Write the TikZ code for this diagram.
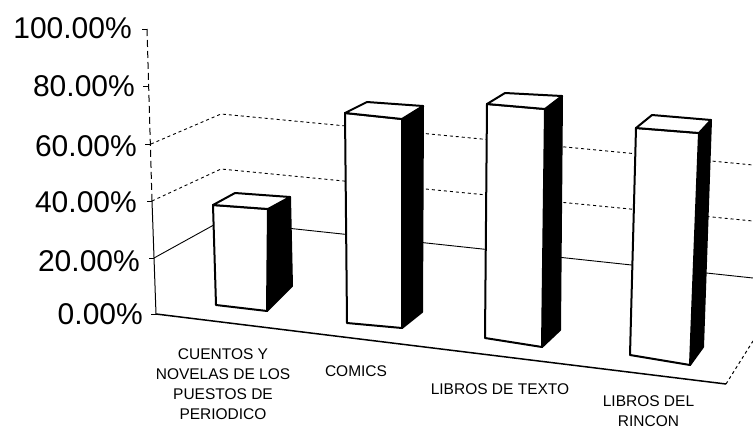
\documentclass[tikz,border=0pt]{standalone}
\usepackage{fontspec}
\setmainfont{Liberation Sans}

\begin{document}
\begin{tikzpicture}[x=1pt, y=-1pt,
    axislabel/.style={anchor=east, inner sep=0pt, font=\fontsize{30}{30}\selectfont},
    catlabel/.style={align=center, inner sep=0pt, font=\fontsize{15.5}{20}\selectfont},
    gridline/.style={line width=0.9pt},
    barface/.style={fill=white, draw=black, line width=2pt, line join=round},
    barside/.style={fill=black, draw=black, line width=2pt, line join=round}]

    \useasboundingbox (0,0) rectangle (753,432);

    % Gridlines
    \draw[gridline] (154,258) -- (221,221) -- (753,278);
    \draw[gridline, dashed] (152,201) -- (221,169) -- (753,221);
    \draw[gridline, dashed] (151,144) -- (221,114) -- (753,165);

    % Axis and ticks
    \draw[line width=1pt, dash pattern=on 7pt off 4pt] (147,29) -- (152,201);
    \draw[line width=1pt] (152,201) -- (156,314);
    \draw[line width=1pt] (142,29) -- (147,29);
    \draw[line width=1pt] (143,86) -- (149,86);
    \draw[line width=1pt] (145,144) -- (151,144);
    \draw[line width=1pt] (147,201) -- (152,201);
    \draw[line width=1pt] (149,258) -- (154,258);
    \draw[line width=1pt] (151,314) -- (156,314);

    % Floor
    \draw[line width=1.5pt] (156,314) -- (726,384);
    \draw[line width=1pt, dashed] (726,384) -- (753,341);

    % Bar: cuentos
    \filldraw[barside] (268,209) -- (290,197) -- (292,286) -- (267,311) -- cycle;
    \filldraw[barface] (213,205) -- (268,209) -- (267,311) -- (216,305) -- cycle;
    \filldraw[barface] (213,205) -- (235,193) -- (290,197) -- (268,209) -- cycle;

    % Bar: comics
    \filldraw[barside] (402,119) -- (423,106) -- (422,312) -- (402,328) -- cycle;
    \filldraw[barface] (345,113) -- (402,119) -- (402,328) -- (347,323) -- cycle;
    \filldraw[barface] (345,113) -- (367,102) -- (423,106) -- (402,119) -- cycle;

    % Bar: libros de texto
    \filldraw[barside] (545,109) -- (562,96) -- (560,330) -- (542,347) -- cycle;
    \filldraw[barface] (487,104) -- (545,109) -- (542,347) -- (485,338) -- cycle;
    \filldraw[barface] (487,104) -- (505,93) -- (562,96) -- (545,109) -- cycle;

    % Bar: libros del rincon
    \filldraw[barside] (699,133) -- (711,120) -- (703,347) -- (690,365) -- cycle;
    \filldraw[barface] (636,128) -- (699,133) -- (690,365) -- (630,355) -- cycle;
    \filldraw[barface] (636,128) -- (652,115) -- (711,120) -- (699,133) -- cycle;

    % Axis labels
    \node[axislabel] (p100) at (132,28) {100.00\%};
    \node[axislabel] (p80) at (135,86) {80.00\%};
    \node[axislabel] (p60) at (137,146) {60.00\%};
    \node[axislabel] (p40) at (137,202.5) {40.00\%};
    \node[axislabel] (p20) at (140,261) {20.00\%};
    \node[axislabel] (p0) at (143,314) {0.00\%};

    % Category labels
    \node[catlabel] (cuentos) at (223,384) {CUENTOS Y\\NOVELAS DE LOS\\PUESTOS DE\\PERIODICO};
    \node[catlabel] (comics) at (356,371) {COMICS};
    \node[catlabel] (texto) at (500,389) {LIBROS DE TEXTO};
    \node[catlabel] (rincon) at (648.5,411) {LIBROS DEL\\RINCON};

\end{tikzpicture}
\end{document}
